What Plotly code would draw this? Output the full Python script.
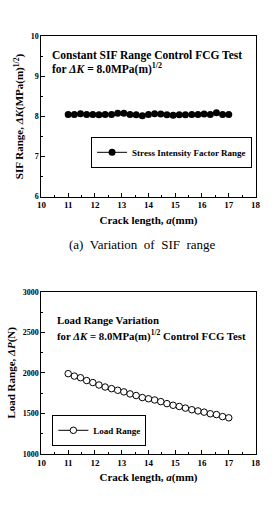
import plotly.graph_objects as go

crack_len = [11.0, 11.23, 11.46, 11.69, 11.92, 12.15, 12.38, 12.62, 12.85, 13.08, 13.31,
             13.54, 13.77, 14.0, 14.23, 14.46, 14.69, 14.92, 15.15, 15.38, 15.62, 15.85,
             16.08, 16.31, 16.54, 16.77, 17.0]
sif_range = [8.05, 8.05, 8.07, 8.05, 8.05, 8.04, 8.05, 8.05, 8.08, 8.08, 8.05, 8.04, 8.02,
             8.05, 8.07, 8.06, 8.04, 8.03, 8.04, 8.04, 8.05, 8.05, 8.06, 8.05, 8.09, 8.05, 8.05]
load_range = [1990, 1960, 1940, 1905, 1880, 1850, 1825, 1805, 1785, 1765, 1740, 1720, 1695,
              1680, 1665, 1645, 1620, 1600, 1585, 1565, 1545, 1530, 1515, 1495, 1485, 1460, 1445]

x_ticks = [10, 11, 12, 13, 14, 15, 16, 17, 18]
sif_ticks = [6, 7, 8, 9, 10]
load_ticks = [1000, 1500, 2000, 2500, 3000]

FONT = "Liberation Serif"
W, H = 276, 508

fig = go.Figure()
fig.add_trace(go.Scatter(
    x=crack_len, y=sif_range, mode="lines+markers", name="<b>Stress Intensity Factor Range</b>",
    line=dict(color="black", width=1), marker=dict(symbol="circle", size=7, color="black"),
    xaxis="x", yaxis="y", legend="legend"))
fig.add_trace(go.Scatter(
    x=crack_len, y=load_range, mode="lines+markers", name="<b>Load Range</b>",
    line=dict(color="black", width=1),
    marker=dict(symbol="circle", size=6.5, color="white", line=dict(width=1, color="black")),
    xaxis="x2", yaxis="y2", legend="legend2"))

xdom = [38.7 / W, 260 / W]
top_dom = [(H - 196) / H, (H - 33) / H]
bot_dom = [(H - 458) / H, (H - 293) / H]

def xax(anchor, dom_y):
    return dict(domain=xdom, anchor=anchor, range=[10, 18], tickvals=x_ticks,
                ticktext=[f"<b>{v}</b>" for v in x_ticks],
                ticks="inside", ticklen=4, tickwidth=1, tickcolor="black",
                minor=dict(ticks="inside", ticklen=2, tickcolor="black", dtick=0.5),
                showline=True, linecolor="black", linewidth=1, mirror=True,
                showgrid=False, zeroline=False,
                tickfont=dict(family=FONT, size=9, color="black"),
                title=dict(text="<b>Crack length, <i>a</i>(mm)</b>",
                           font=dict(family=FONT, size=11, color="black"), standoff=6))

def yax(anchor, dom, rng, ticks, title, minor_dtick):
    return dict(domain=dom, anchor=anchor, range=rng, tickvals=ticks,
                ticktext=[f"<b>{v}</b>" for v in ticks],
                ticks="inside", ticklen=4, tickwidth=1, tickcolor="black",
                minor=dict(ticks="inside", ticklen=2, tickcolor="black", dtick=minor_dtick),
                showline=True, linecolor="black", linewidth=1, mirror=True,
                showgrid=False, zeroline=False,
                tickfont=dict(family=FONT, size=8, color="black"),
                title=dict(text=title, font=dict(family=FONT, size=11, color="black"), standoff=4))

top_font = dict(family=FONT, size=11.5, color="black")
bot_font = dict(family=FONT, size=10.8, color="black")
leg_font = dict(family=FONT, size=9, color="black")
fig.update_layout(
    width=W, height=H, margin=dict(l=0, r=0, t=0, b=0),
    paper_bgcolor="white", plot_bgcolor="white",
    xaxis=xax("y", top_dom),
    yaxis=yax("x", top_dom, [6, 10], sif_ticks,
              "<b>SIF Range, <i>ΔK</i>(MPa(m)<sup>1/2</sup>)</b>", 0.5),
    xaxis2=xax("y2", bot_dom),
    yaxis2=yax("x2", bot_dom, [1000, 3000], load_ticks,
               "<b>Load Range, <i>ΔP</i>(N)</b>", 250),
    legend=dict(x=90 / W, y=(H - 151) / H, xanchor="left", yanchor="middle",
                bgcolor="white", bordercolor="black", borderwidth=1,
                font=leg_font, itemwidth=30, tracegroupgap=0),
    legend2=dict(x=50 / W, y=(H - 434) / H, xanchor="left", yanchor="middle",
                 bgcolor="white", bordercolor="black", borderwidth=1,
                 font=leg_font, itemwidth=30, tracegroupgap=0),
    showlegend=True,
    annotations=[
        dict(text="<b>Constant SIF Range Control FCG Test</b>", x=48 / W, y=(H - 52) / H,
             xref="paper", yref="paper", xanchor="left", yanchor="middle",
             showarrow=False, font=top_font),
        dict(text="<b>for <i>ΔK</i> = 8.0MPa(m)<sup>1/2</sup></b>", x=48 / W, y=(H - 66) / H,
             xref="paper", yref="paper", xanchor="left", yanchor="middle",
             showarrow=False, font=top_font),
        dict(text="(a)  Variation  of  SIF  range", x=143 / W, y=(H - 245) / H,
             xref="paper", yref="paper", xanchor="center", yanchor="middle",
             showarrow=False, font=dict(family=FONT, size=13, color="black")),
        dict(text="<b>Load Range Variation</b>", x=53 / W, y=(H - 322) / H,
             xref="paper", yref="paper", xanchor="left", yanchor="middle",
             showarrow=False, font=bot_font),
        dict(text="<b>for <i>ΔK</i> = 8.0MPa(m)<sup>1/2</sup> Control FCG Test</b>",
             x=53 / W, y=(H - 337) / H,
             xref="paper", yref="paper", xanchor="left", yanchor="middle",
             showarrow=False, font=bot_font),
    ],
)

fig.write_html("out.html")
